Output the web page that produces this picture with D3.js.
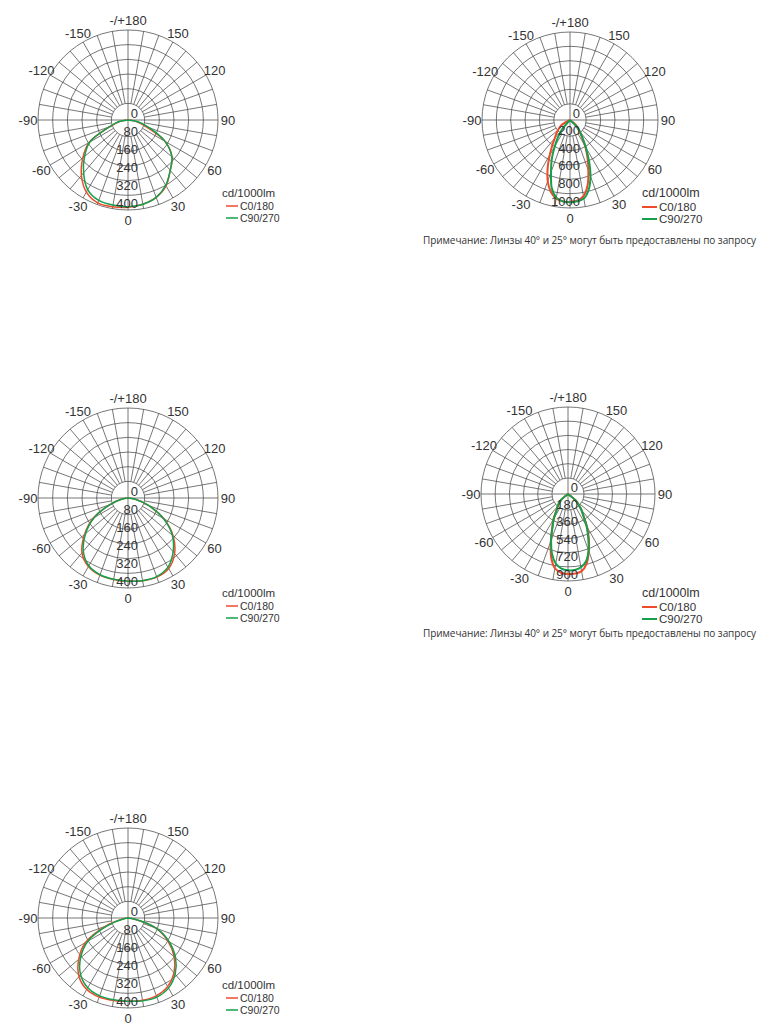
<!DOCTYPE html>
<html lang="ru">
<head>
    <meta charset="UTF-8">
    <title>КСС</title>
    <script src="https://d3js.org/d3.v7.min.js"></script>
    <style>
        body, html {
            margin: 0;
            background: #fff;
        }
        svg {
            display: block;
            font-family: 'Liberation Sans', Arial, sans-serif;
        }
    </style>
</head>
<body>
<svg id="page" width="780" height="1024"></svg>
<script>
    // angles (gamma, deg) at which intensities were read
    const anglesWide = [-90, -80, -70, -60, -50, -40, -30, -20, -10, 0, 10, 20, 30, 40, 50, 60, 70, 80, 90];
    const anglesNarrow = [-90, -85, -80, -75, -70, -65, -60, -55, -50, -45, -40, -35, -30, -25, -20, -15, -10, -5, 0,
        5, 10, 15, 20, 25, 30, 35, 40, 45, 50, 55, 60, 65, 70, 75, 80, 85, 90];

    // chart 1 (top left), cd/1000lm
    const c0Chart1 = [0, 35, 85, 200, 262, 322, 370, 392, 392, 388, 380, 366, 338, 292, 255, 190, 85, 35, 0];
    const c90Chart1 = [0, 40, 87, 196, 252, 307, 358, 380, 384, 385, 380, 366, 335, 292, 255, 190, 100, 45, 0];

    // chart 2 (top right)
    const c0Chart2 = [0, 0, 0, 0, 0, 0, 105, 140, 180, 220, 268, 350, 460, 600, 740, 845, 905, 928, 930,
        920, 878, 770, 610, 470, 345, 235, 165, 120, 88, 0, 0, 0, 0, 0, 0, 0, 0];
    const c90Chart2 = [0, 0, 0, 0, 0, 0, 0, 0, 0, 0, 146, 240, 345, 490, 630, 800, 895, 928, 936,
        928, 905, 820, 680, 510, 360, 250, 180, 106, 0, 0, 0, 0, 0, 0, 0, 0, 0];

    // chart 3 (middle left)
    const c0Chart3 = [0, 30, 85, 178, 252, 318, 352, 365, 368, 370, 373, 374, 362, 322, 262, 184, 97, 33, 0];
    const c90Chart3 = [0, 30, 85, 173, 246, 309, 348, 363, 367, 370, 373, 372, 355, 312, 257, 182, 97, 33, 0];

    // chart 4 (middle right)
    const c0Chart4 = [0, 0, 0, 0, 0, 0, 0, 0, 90, 128, 168, 210, 300, 385, 520, 675, 780, 818, 828,
        826, 810, 745, 630, 510, 395, 282, 217, 158, 105, 0, 0, 0, 0, 0, 0, 0, 0];
    const c90Chart4 = [0, 0, 0, 0, 0, 0, 0, 0, 85, 125, 165, 205, 290, 380, 510, 640, 730, 775, 790,
        790, 770, 720, 620, 495, 385, 280, 215, 155, 100, 0, 0, 0, 0, 0, 0, 0, 0];

    // chart 5 (bottom left)
    const c0Chart5 = [0, 20, 105, 218, 286, 339, 367, 374, 372, 370, 371, 368, 352, 318, 268, 205, 132, 30, 0];
    const c90Chart5 = [0, 18, 95, 205, 275, 328, 358, 368, 369, 370, 374, 374, 360, 326, 276, 212, 135, 32, 0];

    // ring labels
    const ringsA = [0, 80, 160, 240, 320, 400];
    const ringsB = [0, 200, 400, 600, 800, 1000];
    const ringsC = [0, 180, 360, 540, 720, 900];

    // angle labels around the circle
    const gammaTicks = [0, 30, 60, 90, 120, 150, 180, -150, -120, -90, -60, -30];
    const gammaText = ['0', '30', '60', '90', '120', '150', '-/+180', '-150', '-120', '-90', '-60', '-30'];

    const seriesNames = ['C0/180', 'C90/270'];
    const unitText = 'cd/1000lm';
    const noteText = 'Примечание: Линзы 40° и 25° могут быть предоставлены по запросу';

    const colors = ['#ee4b2b', '#14a04c'];
    const ringCount = 5;   // cells between inner circle and outer circle
    const innerFrac = 0.185;

    const svg = d3.select('#page');

    const charts = [
        { cx: 128, cy: 120, R: 90, angles: anglesWide, series: [c0Chart1, c90Chart1], rings: ringsA,
          legend: { x: 222, y: 193, big: false }, note: null, sw: 1.5 },
        { cx: 570, cy: 120, R: 88, angles: anglesNarrow, series: [c0Chart2, c90Chart2], rings: ringsB,
          legend: { x: 642, y: 193, big: true }, note: 240, sw: 2 },
        { cx: 128, cy: 498, R: 90, angles: anglesWide, series: [c0Chart3, c90Chart3], rings: ringsA,
          legend: { x: 222, y: 593, big: false }, note: null, sw: 1.5 },
        { cx: 568, cy: 494, R: 87, angles: anglesNarrow, series: [c0Chart4, c90Chart4], rings: ringsC,
          legend: { x: 642, y: 593, big: true }, note: 633, sw: 2 },
        { cx: 128, cy: 918, R: 90, angles: anglesWide, series: [c0Chart5, c90Chart5], rings: ringsA,
          legend: { x: 222, y: 985, big: false }, note: null, sw: 1.5 }
    ];

    const rad = d => d * Math.PI / 180;

    function drawChart(c) {
        const g = svg.append('g').attr('transform', `translate(${c.cx},${c.cy})`);
        const r = d3.scaleLinear().domain([0, c.rings[c.rings.length - 1]]).range([0, c.R]);
        const inner = c.R * innerFrac;

        // grid circles
        const radii = d3.range(ringCount + 1).map(i => inner + i * (c.R - inner) / ringCount);
        g.selectAll('circle.ring')
            .data(radii)
            .join('circle')
            .attr('class', 'ring')
            .attr('r', d => d)
            .attr('fill', 'none')
            .attr('stroke', '#4a4a4a')
            .attr('stroke-width', 0.75);

        // spokes every 10 deg, the two main axes go through the centre
        g.selectAll('line.spoke')
            .data(d3.range(0, 360, 10))
            .join('line')
            .attr('class', 'spoke')
            .each(function (a) {
                const r0 = (a % 90 === 0) ? 0 : inner;
                d3.select(this)
                    .attr('x1', r0 * Math.sin(rad(a)))
                    .attr('y1', r0 * Math.cos(rad(a)))
                    .attr('x2', c.R * Math.sin(rad(a)))
                    .attr('y2', c.R * Math.cos(rad(a)));
            })
            .attr('stroke', '#4a4a4a')
            .attr('stroke-width', 0.75);

        // curves
        const line = d3.lineRadial()
            .angle(d => Math.PI - rad(d[0]))
            .radius(d => r(d[1]))
            .curve(d3.curveCatmullRom.alpha(0.5));

        c.series.forEach((vals, i) => {
            g.append('path')
                .datum(c.angles.map((a, k) => [a, vals[k]]))
                .attr('d', line)
                .attr('fill', 'none')
                .attr('stroke', colors[i])
                .attr('stroke-width', c.sw)
                .attr('stroke-linejoin', 'round');
        });

        // ring value labels
        g.selectAll('text.rv')
            .data(c.rings)
            .join('text')
            .attr('class', 'rv')
            .attr('x', 10)
            .attr('y', d => r(d) - 2.5)
            .attr('text-anchor', 'end')
            .style('font-size', '13px')
            .attr('fill', '#333')
            .text(d => d);

        // angle labels
        g.selectAll('text.ga')
            .data(gammaTicks)
            .join('text')
            .attr('class', 'ga')
            .attr('x', d => (c.R + 10) * Math.sin(rad(d)))
            .attr('y', d => (c.R + 10) * Math.cos(rad(d)))
            .attr('text-anchor', 'middle')
            .attr('dominant-baseline', 'central')
            .style('font-size', '13px')
            .attr('fill', '#333')
            .text((d, i) => gammaText[i]);

        // legend
        const L = c.legend;
        const lg = svg.append('g').attr('transform', `translate(${L.x},${L.y})`);
        lg.append('text')
            .attr('x', 0).attr('y', 0)
            .attr('dominant-baseline', 'central')
            .style('font-size', L.big ? '12.5px' : '11.5px')
            .attr('fill', '#333')
            .text(unitText);
        seriesNames.forEach((name, i) => {
            const y = (L.big ? 14 : 13) + i * 12;
            const x0 = L.big ? 0 : 4;
            const len = L.big ? 15 : 12;
            lg.append('line')
                .attr('x1', x0).attr('x2', x0 + len)
                .attr('y1', y).attr('y2', y)
                .attr('stroke', colors[i])
                .attr('stroke-width', L.big ? 2 : 1.5);
            lg.append('text')
                .attr('x', x0 + len + 2).attr('y', y)
                .attr('dominant-baseline', 'central')
                .style('font-size', L.big ? '11.5px' : '10.5px')
                .attr('fill', '#333')
                .text(name);
        });

        if (c.note) {
            svg.append('text')
                .attr('x', 423).attr('y', c.note)
                .attr('dominant-baseline', 'central')
                .style('font-family', "'Open Sans', sans-serif")
                .style('font-size', '10px')
                .attr('textLength', 333)
                .attr('fill', '#333')
                .text(noteText);
        }
    }

    charts.forEach(drawChart);
</script>
</body>
</html>
